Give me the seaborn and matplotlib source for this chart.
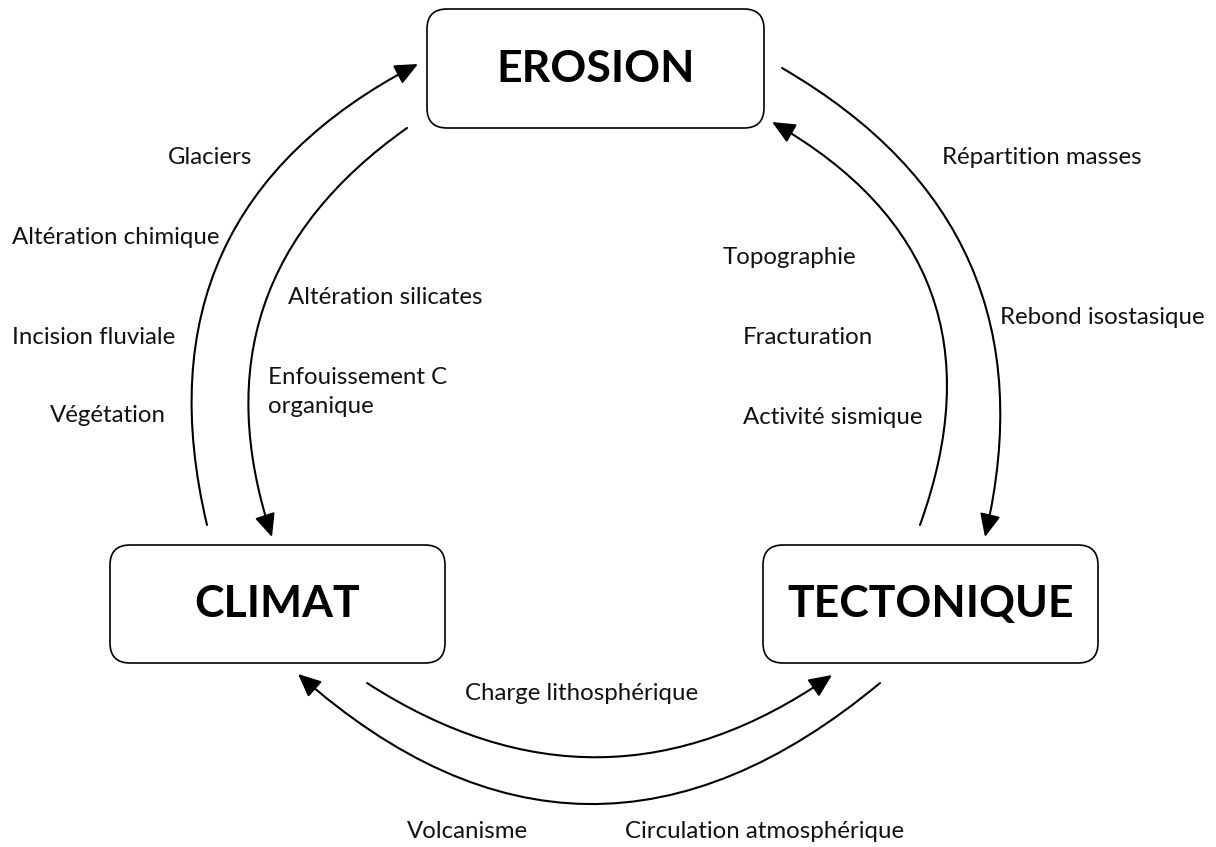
import matplotlib
matplotlib.use("Agg")
import matplotlib.pyplot as plt
from matplotlib.patches import FancyBboxPatch, FancyArrowPatch
import seaborn as sns

sns.set_theme(style="white")
plt.rcParams['font.family'] = ['Lato', 'DejaVu Sans']

# Nodes of the cycle
nodes = ['EROSION', 'CLIMAT', 'TECTONIQUE']

# Processes written along each link
left_outer_labels = ['Glaciers', 'Altération chimique', 'Incision fluviale', 'Végétation']
left_inner_labels = ['Altération silicates', 'Enfouissement C\norganique']
right_inner_labels = ['Topographie', 'Fracturation', 'Activité sismique']
right_outer_labels = ['Répartition masses', 'Rebond isostasique']
bottom_inner_labels = ['Charge lithosphérique']
bottom_outer_labels = ['Volcanisme', 'Circulation atmosphérique']

# Layout in pixel units (x right, y down)
box_xywh = {'EROSION': (427, 9, 337, 119),
            'CLIMAT': (110, 545, 335, 118),
            'TECTONIQUE': (763, 545, 335, 118)}

links = [  # start, end, curvature
    ((207, 525), (418, 64), -0.39),   # climat -> erosion
    ((407, 128), (272, 537), 0.37),   # erosion -> climat
    ((782, 68), (985, 537), -0.37),   # erosion -> tectonique
    ((920, 525), (772, 122), 0.42),   # tectonique -> erosion
    ((367, 683), (832, 675), 0.335),  # climat -> tectonique
    ((880, 683), (298, 674), -0.43),  # tectonique -> climat
]

label_xy = {
    'left_outer': [(168, 158), (12, 238), (12, 337), (50, 415)],
    'left_inner': [(288, 297), (268, 392)],
    'right_inner': [(723, 257), (743, 337), (743, 417)],
    'right_outer': [(942, 158), (1000, 317)],
    'bottom_inner': [(465, 693)],
    'bottom_outer': [(407, 832), (625, 832)],
}
label_sets = {
    'left_outer': left_outer_labels,
    'left_inner': left_inner_labels,
    'right_inner': right_inner_labels,
    'right_outer': right_outer_labels,
    'bottom_inner': bottom_inner_labels,
    'bottom_outer': bottom_outer_labels,
}

fig = plt.figure(figsize=(12.16, 8.47), dpi=100)
ax = fig.add_axes([0, 0, 1, 1])
ax.set_xlim(0, 1216)
ax.set_ylim(847, 0)
ax.axis('off')

for name in nodes:
    x, y, w, h = box_xywh[name]
    ax.add_patch(FancyBboxPatch((x, y), w, h,
                                boxstyle='round,pad=0,rounding_size=20',
                                fc='white', ec='black', lw=1.2))
    ax.text(x + w / 2, y + h / 2, name, ha='center', va='center',
            fontsize=32, fontweight='bold', color='black')

for (p0, p1, rad) in links:
    ax.add_patch(FancyArrowPatch(p0, p1, connectionstyle='arc3,rad=%g' % rad,
                                 arrowstyle='-|>,head_length=1.0,head_width=0.45',
                                 mutation_scale=14, lw=1.5, color='black',
                                 shrinkA=0, shrinkB=0))

for key, labels in label_sets.items():
    for txt, (x, y) in zip(labels, label_xy[key]):
        ax.text(x, y, txt, ha='left', va='center', fontsize=17.3,
                color='#111111', linespacing=1.45)

fig.savefig('out.png', dpi=100, facecolor='white')
